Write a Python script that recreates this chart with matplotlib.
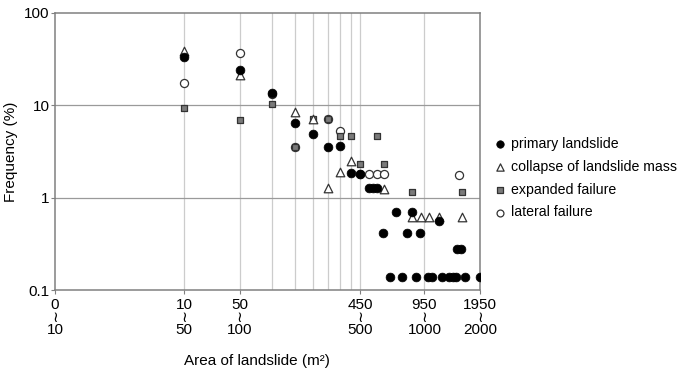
import matplotlib
matplotlib.use("Agg")
import matplotlib.pyplot as plt

plt.rcParams['font.family'] = ['Liberation Sans', 'DejaVu Sans']

# ---- data (x = upper bound of area class, m2; y = frequency, %) ----
primary_x = [50, 100, 150, 200, 250, 300, 350, 400, 450, 504, 530, 557,
             599, 702, 802, 853, 946, 1200, 1507, 1569,
             651, 752, 904, 1049, 1106, 1253, 1351, 1428, 1483, 1660, 2000]
primary_y = [33.1, 24.1, 13.5, 6.4, 4.9, 3.5, 3.65, 1.83, 1.82, 1.26, 1.26, 1.26,
             0.41, 0.70, 0.41, 0.70, 0.41, 0.56, 0.277, 0.277,
             0.137, 0.137, 0.137, 0.137, 0.137, 0.137, 0.137, 0.137, 0.137, 0.137, 0.137]

collapse_x = [50, 100, 200, 250, 300, 350, 400, 604, 853, 955, 1059, 1200, 1604]
collapse_y = [39.1, 21.3, 8.4, 7.05, 1.26, 1.89, 2.52, 1.24, 0.62, 0.62, 0.62, 0.62, 0.62]

expanded_x = [50, 100, 150, 200, 250, 300, 350, 400, 450, 552, 604, 853, 1604]
expanded_y = [9.4, 6.93, 10.3, 3.51, 7.05, 7.05, 4.65, 4.65, 2.31, 4.65, 2.31, 1.16, 1.16]

lateral_x = [50, 100, 150, 200, 300, 350, 450, 503, 554, 607, 1545]
lateral_y = [17.3, 36.6, 13.2, 3.51, 7.05, 5.33, 1.8, 1.8, 1.8, 1.8, 1.78]

tick_pos = [10, 50, 100, 450, 1000, 2000]
tick_top = ["0", "10", "50", "450", "950", "1950"]
tick_bot = ["10", "50", "100", "500", "1000", "2000"]
grid_x = [50, 100, 150, 200, 250, 300, 350, 400, 450, 1000]

fig = plt.figure(figsize=(6.83, 3.71), dpi=100)
ax = fig.add_axes([55/683, 81/371, 425/683, 277/371])
ax.set_xscale('log')
ax.set_yscale('log')
ax.set_xlim(10, 2000)
ax.set_ylim(0.1, 100)

for gx in grid_x:
    ax.axvline(gx, color='#cccccc', lw=0.9, zorder=0)
for gy in [1, 10]:
    ax.axhline(gy, color='#9a9a9a', lw=0.9, zorder=0)

ax.scatter(lateral_x, lateral_y, marker='o', s=34, facecolor='white',
           edgecolor='#333333', linewidths=0.9, zorder=2, label='lateral failure')
ax.scatter(expanded_x, expanded_y, marker='s', s=24, facecolor='#7a7a7a',
           edgecolor='#333333', linewidths=0.9, zorder=3, label='expanded failure')
ax.scatter(collapse_x, collapse_y, marker='^', s=38, facecolor='white',
           edgecolor='#333333', linewidths=0.9, zorder=4, label='collapse of landslide mass')
ax.scatter(primary_x, primary_y, marker='o', s=40, facecolor='black',
           edgecolor='black', linewidths=0.5, zorder=5, label='primary landslide')

for sp in ax.spines.values():
    sp.set_color('#808080')
    sp.set_linewidth(1.1)

ax.set_yticks([0.1, 1, 10, 100])
ax.set_yticklabels(['0.1', '1', '10', '100'])
ax.yaxis.set_minor_locator(matplotlib.ticker.NullLocator())
ax.xaxis.set_minor_locator(matplotlib.ticker.NullLocator())
ax.tick_params(axis='y', length=3, color='#808080', labelsize=11, pad=1)
ax.set_xticks(tick_pos)
ax.set_xticklabels([f"{a}\n≀\n{b}" for a, b in zip(tick_top, tick_bot)],
                   linespacing=0.85)
ax.tick_params(axis='x', length=3, color='#808080', labelsize=11, pad=3)

ax.set_ylabel('Frequency (%)', fontsize=11, labelpad=4)
ax.set_xlabel('Area of landslide (m²)', fontsize=11)
ax.xaxis.set_label_coords((257 - 55) / 425, -(361 - 290) / 277)
ax.xaxis.label.set_va('center')

h, l = ax.get_legend_handles_labels()
order = [3, 2, 1, 0]
ax.legend([h[i] for i in order], [l[i] for i in order], loc='upper left',
          bbox_to_anchor=(493/683, 1 - 137/371), bbox_transform=fig.transFigure,
          frameon=False, fontsize=10.2, handletextpad=0.25, labelspacing=0.62,
          handlelength=1.0, borderaxespad=0, borderpad=0, markerscale=0.85)

fig.savefig('out.png', dpi=100)
